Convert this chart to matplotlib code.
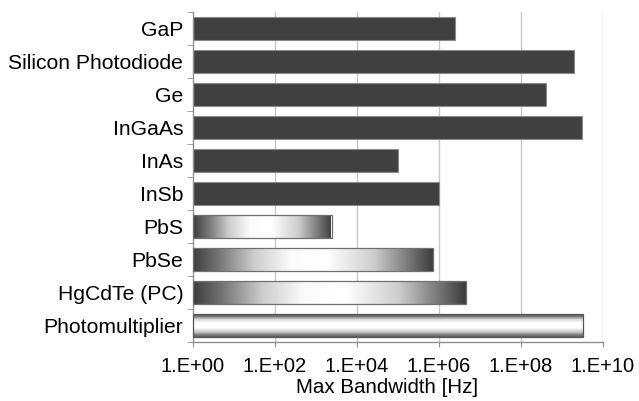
import numpy as np
import matplotlib
matplotlib.use("Agg")
import matplotlib.pyplot as plt
from matplotlib import transforms
from matplotlib.patches import Rectangle
from matplotlib.colors import LinearSegmentedColormap

categories = ["GaP", "Silicon Photodiode", "Ge", "InGaAs", "InAs", "InSb",
              "PbS", "PbSe", "HgCdTe (PC)", "Photomultiplier"]
bandwidth = [2.5e6, 2.0e9, 4.0e8, 3.1e9, 1.0e5, 1.0e6, 2.4e3, 7.2e5, 4.6e6, 3.3e9]
styles = ["solid", "solid", "solid", "solid", "solid", "solid",
          "hgrad", "hgrad", "hgrad", "vgrad"]
xticks = [1e0, 1e2, 1e4, 1e6, 1e8, 1e10]
xticklabels = ["1.E+00", "1.E+02", "1.E+04", "1.E+06", "1.E+08", "1.E+10"]

plt.rcParams['font.family'] = ['Liberation Sans', 'DejaVu Sans']

fig = plt.figure(figsize=(6.39, 4.01), dpi=100)
ax = fig.add_axes([193/639, 1-342/401, (603-193)/639, (342-12)/401])
ax.set_xscale('log')
ax.set_xlim(1, 1e10)
n = len(categories)
ax.set_ylim(n - 0.5, -0.5)

grid_c = '#c8c8c8'
for xv in xticks[1:]:
    ax.axvline(xv, color=grid_c, lw=1.0, zorder=0)

cmap = LinearSegmentedColormap.from_list('g', ['#000000', '#ffffff'])
h = 0.68
blend = transforms.blended_transform_factory(ax.transAxes, ax.transData)
for i, (cat, v, st) in enumerate(zip(categories, bandwidth, styles)):
    if st == "solid":
        ax.barh(i, v, left=1, height=h, color='#404040', edgecolor='#8a8a8a',
                linewidth=0.8, zorder=2)
    else:
        frac = np.log10(v) / 10.0
        t = np.linspace(0, 1, 256)
        if st == "hgrad":
            val = np.interp(t, [0, 0.1, 0.25, 0.4, 0.55, 0.75, 0.9, 1.0],
                            [0.25, 0.45, 0.8, 0.98, 1.0, 0.8, 0.45, 0.22])
            img = val[np.newaxis, :]
            ec = '#707070'
        else:
            val = np.interp(t, [0, 0.12, 0.25, 0.4, 0.6, 0.78, 0.9, 1.0],
                            [0.3, 0.45, 0.85, 1.0, 1.0, 0.78, 0.5, 0.35])
            img = val[:, np.newaxis]
            ec = '#555555'
        rect = Rectangle((0, i - h/2), frac, h, transform=blend,
                         facecolor='none', edgecolor=ec, linewidth=0.9, zorder=4)
        ax.add_patch(rect)
        im = ax.imshow(img, cmap=cmap, vmin=0, vmax=1, aspect='auto',
                       extent=(0, frac + 0.004, i + h/2 + 0.02, i - h/2 - 0.02),
                       transform=blend, interpolation='bilinear', zorder=3)
        im.set_clip_path(rect)

ax.set_xticks(xticks)
ax.set_xticklabels(xticklabels, fontsize=14.5)
ax.xaxis.set_minor_locator(matplotlib.ticker.NullLocator())
ax.tick_params(axis='x', length=3.6, color='#909090', pad=7)
ax.set_yticks(range(n))
ax.set_yticklabels(categories, fontsize=15.2)
ax.tick_params(axis='y', which='major', length=0, pad=7)
ax.set_yticks(np.arange(-0.5, n + 0.5, 1), minor=True)
ax.tick_params(axis='y', which='minor', length=4, color='#909090')

for s in ['top', 'right']:
    ax.spines[s].set_visible(False)
for s in ['left', 'bottom']:
    ax.spines[s].set_color('#909090')
    ax.spines[s].set_linewidth(1.0)

ax.set_xlabel("Max Bandwidth [Hz]", fontsize=14.8, labelpad=1.5)
ax.xaxis.label.set_x((387 - 193) / 410)

fig.savefig("out.png", dpi=100)
